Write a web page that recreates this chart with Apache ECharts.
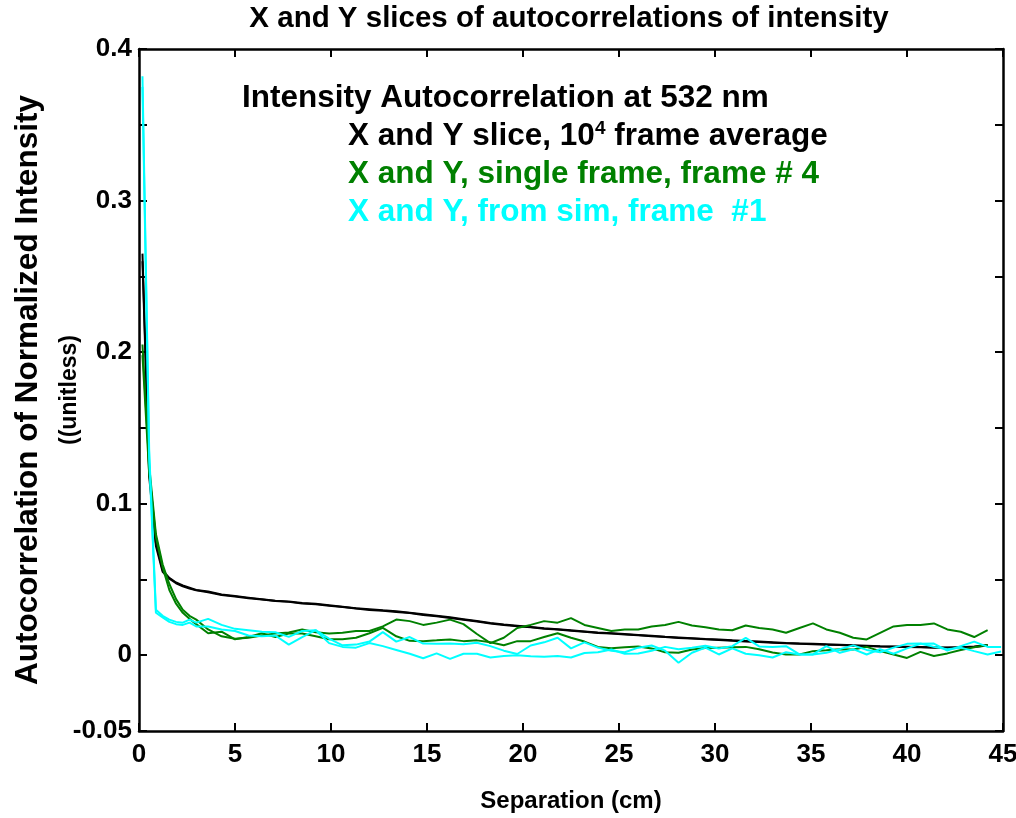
<!DOCTYPE html>
<html>
<head>
<meta charset="utf-8">
<script src="https://cdn.jsdelivr.net/npm/echarts@6/dist/echarts.min.js"></script>
<style>html,body{margin:0;padding:0;background:#fff;}#c{width:1016px;height:818px;}</style>
</head>
<body>
<div id="c"></div>
<script>
// Sample positions (cm)
const separation = [0.18,0.53,0.88,1.23,1.58,1.93,2.28,2.63,2.98,
3.6,4.3,5.0,5.7,6.4,7.1,7.8,8.5,9.2,9.9,10.6,11.3,12.0,12.7,13.4,14.1,14.8,15.5,16.2,16.9,
17.6,18.3,19.0,19.7,20.4,21.1,21.8,22.5,23.2,23.9,24.6,25.3,26.0,26.7,27.4,28.1,28.8,29.5,
30.2,30.9,31.6,32.3,33.0,33.7,34.4,35.1,35.8,36.5,37.2,37.9,38.6,39.3,40.0,40.7,41.4,42.1,
42.8,43.5,44.2,44.9];

// 10^4 frame average, X slice and Y slice (black)
const avgX = [0.265,0.122,0.074,0.056,0.051,0.048,0.046,0.0445,0.043,
0.042,0.040,0.039,0.038,0.037,0.036,0.0355,0.0345,0.034,0.033,
0.032,0.031,0.0303,0.0296,0.029,0.028,0.027,0.026,0.025,0.0238,
0.0226,0.0213,0.0202,0.0194,0.0186,0.0178,0.0171,0.0164,0.0157,0.015,
0.0145,0.014,0.0134,0.0128,0.0122,0.0117,0.0112,0.0107,0.0103,0.0098,
0.0094,0.009,0.0086,0.0081,0.0078,0.0075,0.0072,0.0069,0.0066,0.0063,
0.006,0.0058,0.0056,0.0054,0.0052,0.0051,0.0052,0.0055,0.0064];
const avgY = [0.26,0.118,0.072,0.055,0.0505,0.0475,0.0455,0.044,0.0428,
0.0415,0.0398,0.0388,0.0376,0.0368,0.0357,0.0352,0.0341,0.0337,0.0327,
0.0318,0.0309,0.0299,0.0294,0.0285,0.0278,0.0266,0.0257,0.0246,0.0234,
0.0222,0.021,0.0199,0.0191,0.0184,0.0175,0.0169,0.0161,0.0155,0.0147,
0.0143,0.0137,0.0132,0.0125,0.0120,0.0114,0.0110,0.0105,0.0100,0.0096,
0.0091,0.0088,0.0083,0.0079,0.0075,0.0073,0.0069,0.0067,0.0063,0.0061,
0.0058,0.0056,0.0054,0.0052,0.005,0.0049,0.0053,0.0058,0.0068];

// single frame #4 (green)
const singleA = [0.205,0.125,0.080,0.060,0.047,0.037,0.030,0.026,0.0235,
0.017,0.0125,0.0108,0.0115,0.013,0.0143,0.015,0.017,0.0152,0.0143,
0.0148,0.016,0.016,0.019,0.0235,0.0225,0.020,0.0215,0.0235,0.0205,
0.014,0.008,0.0115,0.018,0.020,0.0225,0.0215,0.0245,0.020,0.018,
0.016,0.017,0.017,0.019,0.020,0.022,0.0196,0.0185,0.017,0.0165,
0.0196,0.018,0.017,0.0148,0.018,0.021,0.017,0.0148,0.0115,0.0104,
0.0148,0.019,0.020,0.020,0.021,0.017,0.0155,0.012,0.0165];
const singleB = [0.198,0.120,0.078,0.058,0.043,0.034,0.028,0.024,0.0205,
0.0145,0.0155,0.0105,0.012,0.0145,0.012,0.0143,0.0143,0.0125,0.0106,
0.0105,0.0115,0.0145,0.018,0.0125,0.0095,0.0093,0.0098,0.0104,0.0093,
0.0098,0.0085,0.0066,0.0093,0.0093,0.012,0.0145,0.0115,0.009,0.0055,
0.0046,0.0052,0.0058,0.0045,0.002,0.0016,0.0038,0.0048,0.005,0.0052,
0.0055,0.004,0.0018,0.0005,0.0005,0.0027,0.0033,0.004,0.0038,0.0055,
0.0027,0.0005,-0.0018,0.0022,-0.0005,0.0012,0.0035,0.0052,0.0068];

// from sim, frame #1 (cyan)
const simA = [0.382,0.135,0.03,0.026,0.0235,0.022,0.0215,0.0235,0.0215,
0.024,0.020,0.0174,0.0165,0.0155,0.0152,0.0121,0.016,0.0165,0.011,
0.0065,0.007,0.009,0.0152,0.009,0.012,0.0077,0.0075,0.0077,0.0072,
0.0082,0.006,0.003,0.0008,0.0064,0.0085,0.0115,0.0045,0.0085,0.005,
0.003,0.002,0.005,0.0064,0.003,-0.005,0.0016,0.005,0.0005,0.0045,
0.001,0.0,-0.0015,0.002,0.0005,0.0005,0.006,0.0016,0.004,0.0005,
0.004,0.001,0.0045,0.0075,0.0077,0.003,0.006,0.009,0.0055,0.0055];
const simB = [0.375,0.13,0.028,0.025,0.022,0.0205,0.020,0.0215,0.019,
0.019,0.017,0.016,0.013,0.0125,0.013,0.007,0.012,0.0165,0.008,
0.0055,0.005,0.008,0.006,0.0035,0.001,-0.002,0.0012,-0.0024,0.001,
0.001,-0.0015,-0.0005,0.0,-0.0007,-0.001,-0.0005,-0.0015,0.0015,0.002,
0.0038,0.001,0.0012,0.003,0.0055,0.004,0.005,0.0062,0.0045,0.006,
0.0115,0.0058,0.0055,0.006,0.0005,0.0005,0.0016,0.004,0.0065,0.0035,
0.002,0.005,0.0075,0.0077,0.0055,0.004,0.005,0.0027,0.0005,0.0025];

const chartTitle = 'X and Y slices of autocorrelations of intensity';
const legendLines = [
  'Intensity Autocorrelation at 532 nm',
  'X and Y slice, 10{sup|4} frame average',
  'X and Y, single frame, frame # 4',
  'X and Y, from sim, frame  #1'
];
const xName = 'Separation (cm)';
const yNameLines = ['Autocorrelation of Normalized Intensity', '((unitless)'];
const yLabelShown = [-0.05, 0, 0.1, 0.2, 0.3, 0.4];

const FF = '"Liberation Sans", Arial, sans-serif';
const BLACK = '#000000', GREEN = '#008000', CYAN = '#00FFFF';

function pairs(arr){ return arr.map((v,i)=>[separation[i], v]); }
function line(arr, color){
  return {type:'line', data:pairs(arr), showSymbol:false, symbol:'none',
    lineStyle:{color:color, width:2}, itemStyle:{color:color}, animation:false, z:3};
}

const axisCommon = {
  axisLine:{show:true, onZero:false, lineStyle:{color:'#000', width:2.5}},
  axisTick:{show:true, inside:true, length:8, lineStyle:{color:'#000', width:2}},
  splitLine:{show:false}
};

const chart = echarts.init(document.getElementById('c'));
chart.setOption({
  backgroundColor:'#fff',
  animation:false,
  grid:{left:139, right:13, top:49, bottom:87, containLabel:false, outerBoundsMode:'none'},
  xAxis:[
    Object.assign({type:'value', min:0, max:45, interval:5, position:'bottom',
      axisLabel:{color:'#000', fontSize:26, fontWeight:'bold', fontFamily:FF, margin:11},
      name:xName, nameLocation:'middle', nameGap:58,
      nameTextStyle:{color:'#000', fontSize:24, fontWeight:'bold', fontFamily:FF}}, axisCommon),
    Object.assign({type:'value', min:0, max:45, interval:5, position:'top',
      axisLabel:{show:false}}, axisCommon)
  ],
  yAxis:[
    Object.assign({type:'value', min:-0.05, max:0.4, interval:0.05, position:'left',
      axisLabel:{color:'#000', fontSize:26, fontWeight:'bold', fontFamily:FF, margin:7,
        formatter:function(v){
          const r = Math.round(v*100)/100;
          for (const s of yLabelShown){ if (Math.abs(s-r)<1e-9) return s===0?'0':(s===-0.05?'-0.05':s.toFixed(1)); }
          return '';
        }},
      name:'{a|'+yNameLines[0]+'}\n{b|'+yNameLines[1]+'}', nameLocation:'middle', nameGap:48, nameRotate:90,
      nameMoveOverlap:false,
      nameTextStyle:{color:'#000', fontWeight:'bold', fontFamily:FF,
        rich:{a:{fontSize:31.5, fontWeight:'bold', fontFamily:FF, color:'#000', lineHeight:42},
              b:{fontSize:23, fontWeight:'bold', fontFamily:FF, color:'#000', lineHeight:42}}}}, axisCommon),
    Object.assign({type:'value', min:-0.05, max:0.4, interval:0.05, position:'right',
      axisLabel:{show:false}}, axisCommon)
  ],
  series:[
    line(avgX, BLACK), line(avgY, BLACK),
    line(singleA, GREEN), line(singleB, GREEN),
    line(simA, CYAN), line(simB, CYAN)
  ],
  graphic:[
    {type:'text', x:569, y:19, style:{text:chartTitle, font:'bold 29.5px '+FF, fill:'#000', align:'center', verticalAlign:'middle'}},
    {type:'text', x:242, y:98, style:{text:legendLines[0], font:'bold 31.5px '+FF, fill:BLACK, verticalAlign:'middle'}},
    {type:'text', x:348, y:136, style:{text:legendLines[1], font:'bold 31.5px '+FF, fill:BLACK, verticalAlign:'middle',
      rich:{sup:{fontSize:19, fontWeight:'bold', fontFamily:FF, fill:BLACK, verticalAlign:'top', padding:[0,0,14,0]}}}},
    {type:'text', x:348, y:174, style:{text:legendLines[2], font:'bold 31.5px '+FF, fill:GREEN, verticalAlign:'middle'}},
    {type:'text', x:348, y:212, style:{text:legendLines[3], font:'bold 31.5px '+FF, fill:CYAN, verticalAlign:'middle'}}
  ]
});
</script>
</body>
</html>
